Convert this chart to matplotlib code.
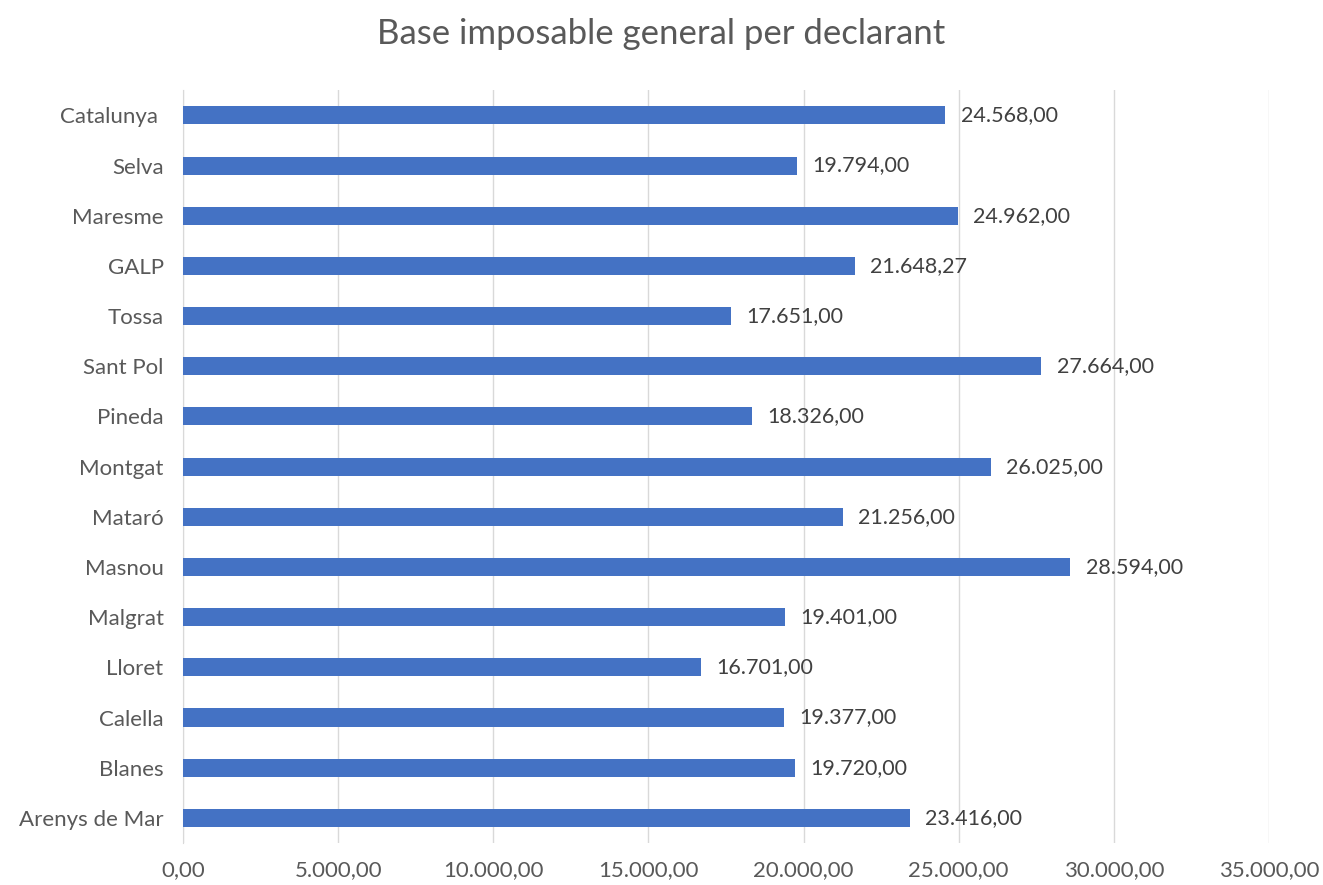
import matplotlib.pyplot as plt

categories = ["Arenys de Mar", "Blanes", "Calella", "Lloret", "Malgrat", "Masnou",
              "Mataró", "Montgat", "Pineda", "Sant Pol", "Tossa", "GALP",
              "Maresme", "Selva", "Catalunya "]
values = [23416.00, 19720.00, 19377.00, 16701.00, 19401.00, 28594.00,
          21256.00, 26025.00, 18326.00, 27664.00, 17651.00, 21648.27,
          24962.00, 19794.00, 24568.00]
xticks = [0, 5000, 10000, 15000, 20000, 25000, 30000, 35000]


def fmt(v):
    # Spanish style: 24.568,00
    s = f"{v:,.2f}"
    return s.replace(",", "X").replace(".", ",").replace("X", ".")


plt.rcParams['font.family'] = ['Lato', 'DejaVu Sans']

fig = plt.figure(figsize=(13.23, 8.85), dpi=100)
ax = fig.add_axes([0.1383, 0.0475, 0.8209, 0.8505])

y = range(len(categories))
ax.barh(y, values, height=0.36, color='#4472C4', zorder=3)

for yi, v in zip(y, values):
    ax.text(v + 500, yi, fmt(v), va='center', ha='left', fontsize=15.5, color='#404040')

ax.set_xlim(0, 35000)
ax.set_ylim(-0.5, len(categories) - 0.5)
ax.set_yticks(list(y))
ax.set_yticklabels(categories, fontsize=16, color='#595959')
ax.set_xticks(xticks)
ax.set_xticklabels([fmt(t) for t in xticks], fontsize=16, color='#595959')
ax.tick_params(axis='both', length=0)
ax.tick_params(axis='y', pad=14)
ax.tick_params(axis='x', pad=12)

ax.grid(axis='x', color='#D9D9D9', linewidth=1, zorder=0)
for side in ['top', 'right', 'bottom']:
    ax.spines[side].set_visible(False)
ax.spines['left'].set_color('#D9D9D9')

fig.suptitle("Base imposable general per declarant", fontsize=25, color='#595959', y=0.98)

fig.savefig("out.png", dpi=100)
